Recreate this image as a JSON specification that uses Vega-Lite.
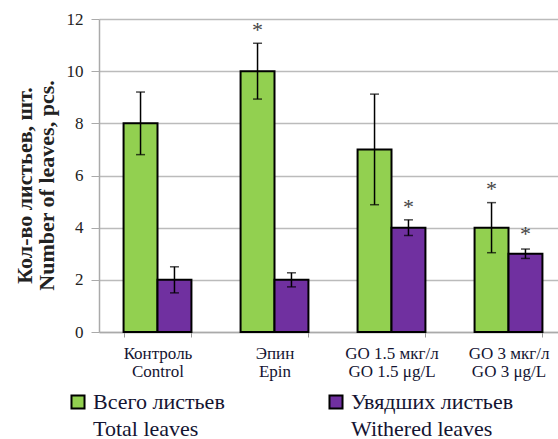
{
  "$schema": "https://vega.github.io/schema/vega-lite/v6.json",
  "width": 468,
  "height": 313,
  "autosize": {"type": "none"},
  "padding": {"left": 99, "top": 19, "right": -9, "bottom": 107},
  "background": "white",
  "config": {
    "view": {"stroke": null},
    "font": "Liberation Serif",
    "text": {"font": "Liberation Serif"}
  },
  "data": {
    "values": [
      {"cat": "Контроль|Control", "series": "Всего листьев|Total leaves", "value": 8, "lo": 6.8, "hi": 9.2, "star": null},
      {"cat": "Контроль|Control", "series": "Увядших листьев|Withered leaves", "value": 2, "lo": 1.5, "hi": 2.5, "star": null},
      {"cat": "Эпин|Epin", "series": "Всего листьев|Total leaves", "value": 10, "lo": 8.93, "hi": 11.07, "star": 11.75},
      {"cat": "Эпин|Epin", "series": "Увядших листьев|Withered leaves", "value": 2, "lo": 1.73, "hi": 2.27, "star": null},
      {"cat": "GO 1.5 мкг/л|GO 1.5 μg/L", "series": "Всего листьев|Total leaves", "value": 7, "lo": 4.88, "hi": 9.12, "star": null},
      {"cat": "GO 1.5 мкг/л|GO 1.5 μg/L", "series": "Увядших листьев|Withered leaves", "value": 4, "lo": 3.7, "hi": 4.3, "star": 4.95},
      {"cat": "GO 3 мкг/л|GO 3 μg/L", "series": "Всего листьев|Total leaves", "value": 4, "lo": 3.04, "hi": 4.96, "star": 5.62},
      {"cat": "GO 3 мкг/л|GO 3 μg/L", "series": "Увядших листьев|Withered leaves", "value": 3, "lo": 2.82, "hi": 3.18, "star": 3.9}
    ]
  },
  "encoding": {
    "x": {
      "field": "cat", "type": "nominal", "sort": null,
      "scale": {"paddingInner": 0.42, "paddingOuter": 0.21},
      "axis": {
        "title": null, "labelAngle": 0, "labelExpr": "split(datum.label, '|')",
        "labelFont": "Liberation Serif", "labelFontSize": 17, "labelLineHeight": 18, "labelColor": "#141432", "labelPadding": 8,
        "tickBand": "extent", "tickSize": 5, "tickColor": "#999", "domainColor": "#aaa", "domainWidth": 1.5
      }
    },
    "xOffset": {"field": "series", "type": "nominal", "sort": null}
  },
  "layer": [
    {
      "mark": {"type": "bar", "stroke": "black", "strokeWidth": 2},
      "encoding": {
        "y": {
          "field": "value", "type": "quantitative",
          "scale": {"domain": [0, 12], "nice": false},
          "axis": {
            "values": [0, 2, 4, 6, 8, 10, 12],
            "title": ["Кол-во листьев, шт.", "Number of leaves, pcs."],
            "titleFont": "Liberation Serif", "titleFontWeight": "bold", "titleFontSize": 22, "titleLineHeight": 22, "titleColor": "#222",
            "titlePadding": 8, "titleY": 166,
            "labelFont": "Liberation Serif", "labelFontSize": 17, "labelColor": "#222", "labelPadding": 8, "tickSize": 8, "tickColor": "#aaa",
            "gridColor": "#bbb", "gridWidth": 1.5, "domainColor": "#aaa", "domainWidth": 1.5
          }
        },
        "fill": {
          "field": "series", "type": "nominal", "sort": null,
          "scale": {"range": ["#92D050", "#7030A0"]},
          "legend": {
            "title": null, "orient": "none", "legendX": -32, "legendY": 372,
            "direction": "horizontal", "columns": 2, "columnPadding": 100,
            "symbolType": "square", "symbolSize": 170, "symbolStrokeColor": "black", "symbolStrokeWidth": 2,
            "labelExpr": "split(datum.label, '|')",
            "labelFont": "Liberation Serif", "labelFontSize": 22, "labelColor": "#141432", "labelOffset": 4, "labelLimit": 400,
            "encode": {"labels": {"update": {"lineHeight": {"value": 27}}}}
          }
        }
      }
    },
    {
      "mark": {"type": "rule", "color": "black", "strokeWidth": 1.5},
      "encoding": {"y": {"field": "lo", "type": "quantitative"}, "y2": {"field": "hi"}}
    },
    {
      "mark": {"type": "tick", "color": "black", "thickness": 1.5, "size": 9, "orient": "horizontal"},
      "encoding": {"y": {"field": "lo", "type": "quantitative"}}
    },
    {
      "mark": {"type": "tick", "color": "black", "thickness": 1.5, "size": 9, "orient": "horizontal"},
      "encoding": {"y": {"field": "hi", "type": "quantitative"}}
    },
    {
      "transform": [{"filter": "datum.star != null"}],
      "mark": {"type": "text", "text": "*", "fontSize": 22, "color": "#444", "baseline": "middle", "dy": 4},
      "encoding": {"y": {"field": "star", "type": "quantitative"}}
    }
  ]
}
